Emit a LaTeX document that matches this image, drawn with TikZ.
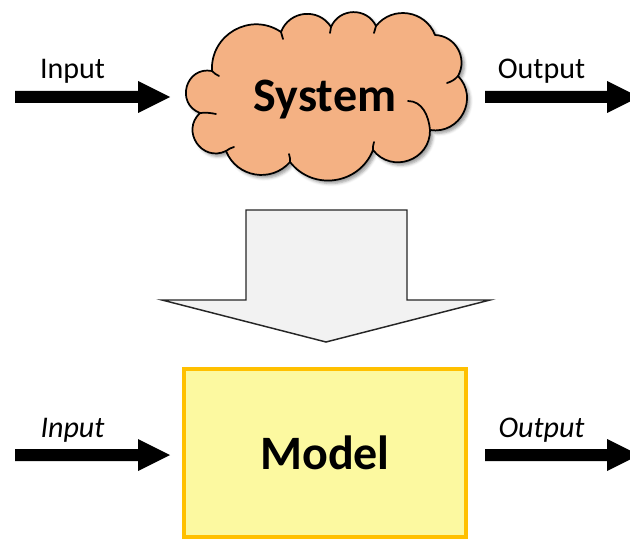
\documentclass[tikz,border=0pt]{standalone}
\usepackage{fontspec}
\setmainfont{Carlito}
\usetikzlibrary{calc,shadows.blur}
\definecolor{cloudfill}{HTML}{F4B183}
\definecolor{boxfill}{HTML}{FCF9A0}
\definecolor{boxline}{HTML}{FFC000}
\definecolor{bigfill}{HTML}{F2F2F2}
% thick signal arrow from coordinate #1 to coordinate #2 (one filled outline)
\newcommand{\sigarrow}[2]{%
  \fill ($(#1)+(0,-6)$) -- ($(#2)+(-32,-6)$) -- ($(#2)+(-32,-16)$) -- (#2)
    -- ($(#2)+(-32,16)$) -- ($(#2)+(-32,6)$) -- ($(#1)+(0,6)$) -- cycle;}
\begin{document}
\begin{tikzpicture}[x=0.75pt,y=-0.75pt,
  lbl/.style={font=\fontsize{22.5}{26}\selectfont,anchor=base,inner sep=0pt},
  lblit/.style={font=\fontsize{22.5}{26}\selectfont\itshape,anchor=base,inner sep=0pt},
  title/.style={font=\fontsize{36}{40}\selectfont\bfseries,inner sep=0pt},
  cloudline/.style={draw=black,line width=1.3pt,line join=round,line cap=round},
  puff/.style 2 args={bend left=#1,looseness=#2},
  modelbox/.style={title,draw=boxline,fill=boxfill,line width=3pt,
    minimum width=212pt,minimum height=125.6pt},
  bigarrow/.style={draw=black!85,fill=bigfill,line width=1.1pt,line join=miter}]
\useasboundingbox (0,0) rectangle (630,538);

% cusps between the puffs of the cloud, clockwise from the upper left
\coordinate (c1) at (212,71);
\coordinate (c2) at (281,32);
\coordinate (c3) at (331,27);
\coordinate (c4) at (376,26);
\coordinate (c5) at (435,35);
\coordinate (c6) at (458,76);
\coordinate (c7) at (430,130);
\coordinate (c8) at (373,150);
\coordinate (c9) at (290,162);
\coordinate (c10) at (226,151);
\coordinate (c11) at (200,113);

% cloud outline
\draw[cloudline,fill=cloudfill,
  blur shadow={shadow xshift=2.2pt,shadow yshift=-2.2pt,shadow blur radius=2.2pt,shadow opacity=40}]
  (c11) to[puff={85}{1.57}]  (c1)
        to[puff={63.6}{1.18}] (c2)
        to[puff={63.6}{1.18}] (c3)
        to[puff={65.3}{1.20}] (c4)
        to[puff={60.2}{1.14}] (c5)
        to[puff={58.5}{1.12}] (c6)
        to[puff={71.5}{1.29}] (c7)
        to[puff={71.5}{1.29}] (c8)
        to[puff={60.2}{1.14}] (c9)
        to[puff={58.5}{1.12}] (c10)
        to[puff={81.4}{1.48}] (c11) -- cycle;

% seams where the puffs overlap
\draw[cloudline]
  (c1) to[bend right=10] (219,76)
  (c2) to[bend left=10] (283,39)
  (c3) to[bend right=10] (330,33)
  (c4) to[bend right=10] (374,33)
  (c6) to[bend left=15] (447,83)
  (408,101) to[out=0,in=95] (c7)
  (c8) to[bend left=10] (374,142)
  (c9) to[bend right=10] (289,154)
  (c10) to[bend left=10] (234,147)
  (c11) to[bend left=8] (216,114);

% system and model
\node[title,anchor=base] (sys) at (325,112) {System};
\node[modelbox] (mdl) at (325,453) {Model};

% block arrow from system to model
\draw[bigarrow] (246,210) -- (407,210) -- (407,300) -- (490,300)
  -- (326,342) -- (162,300) -- (246,300) -- cycle;

% signal arrows
\coordinate (sysInA) at (15,97);   \coordinate (sysInB) at (170,97);
\coordinate (sysOutA) at (485,97); \coordinate (sysOutB) at (639,97);
\coordinate (mdlInA) at (15,455);  \coordinate (mdlInB) at (170,455);
\coordinate (mdlOutA) at (485,455);\coordinate (mdlOutB) at (639,455);
\sigarrow{sysInA}{sysInB}
\sigarrow{sysOutA}{sysOutB}
\sigarrow{mdlInA}{mdlInB}
\sigarrow{mdlOutA}{mdlOutB}

% labels
\node[lbl] (sysInLbl) at (72.5,79) {Input};
\node[lbl] (sysOutLbl) at (541.5,79) {Output};
\node[lblit] (mdlInLbl) at (72.5,437) {Input};
\node[lblit] (mdlOutLbl) at (541.5,437) {Output};
\end{tikzpicture}
\end{document}
